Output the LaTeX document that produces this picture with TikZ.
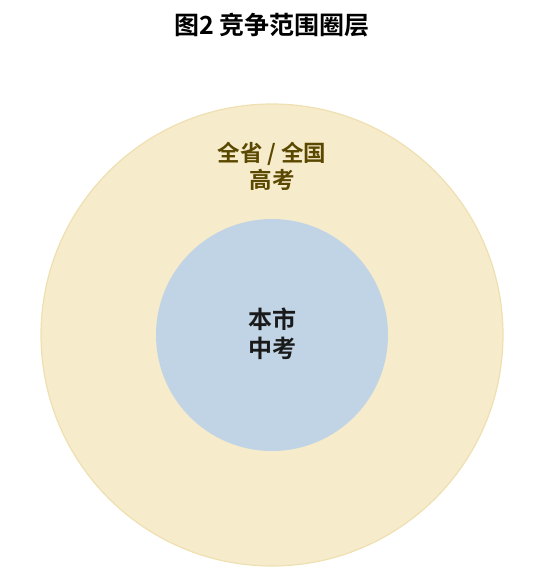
\documentclass[tikz,border=0pt]{standalone}
\usepackage{fontspec}
\newfontfamily\cjk{Noto Sans CJK SC}[BoldFont={Noto Sans CJK SC Bold}]
\definecolor{outerfill}{HTML}{F6EBCB}
\definecolor{outerline}{HTML}{EFE0B2}
\definecolor{innerfill}{HTML}{C0D4E6}
\definecolor{outertext}{HTML}{5A4800}
\definecolor{innertext}{HTML}{1A1A1A}
\begin{document}
\begin{tikzpicture}[x=1pt,y=-1pt,
  lbl/.style={font=\cjk\bfseries, align=center, inner sep=0pt}]
\useasboundingbox (0,0) rectangle (553,585);
\node[font=\cjk\bfseries\fontsize{25}{30}\selectfont, inner sep=0pt] (title) at (272,25) {图2 竞争范围圈层};
\node[circle, minimum size=462pt, inner sep=0pt, fill=outerfill, draw=outerline, line width=1.2pt] (outer) at (272,335) {};
\node[circle, minimum size=232pt, inner sep=0pt, fill=innerfill] (inner) at (272,335) {};
\node[lbl, text=outertext, font=\cjk\bfseries\fontsize{22.5}{27}\selectfont] (outerlbl) at (272,166) {全省 / 全国\\高考};
\node[lbl, text=innertext, font=\cjk\bfseries\fontsize{24}{29}\selectfont] (innerlbl) at (272,334) {本市\\中考};
\end{tikzpicture}
\end{document}
